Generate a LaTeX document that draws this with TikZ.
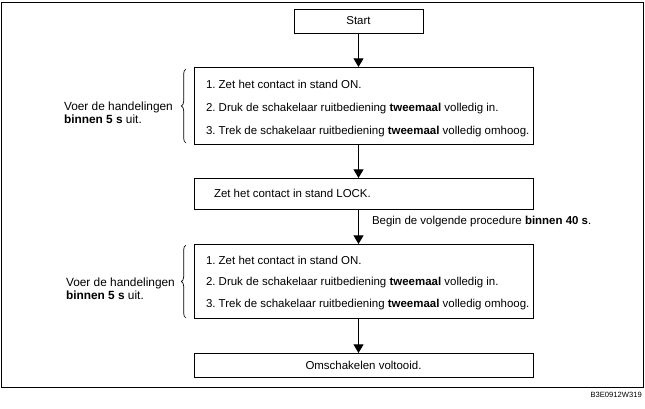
\documentclass[tikz,border=0pt]{standalone}
\usepackage{fontspec}
\setmainfont{Liberation Sans}
\usetikzlibrary{arrows.meta,decorations.pathreplacing,calc}
\tikzset{
  flowbox/.style={draw=black, line width=0.75pt, inner sep=0pt, outer sep=0pt},
  widebox/.style={flowbox, minimum width=339*0.75pt},
  arr/.style={line width=0.75pt, -{Triangle[width=7.5pt,length=6.5pt]}},
  lbl/.style={font=\fontsize{8.6}{10.2}\selectfont, inner sep=0pt, outer sep=0pt},
  listtext/.style={lbl, anchor=base west, align=left},
  sidebrace/.style={decorate, decoration={brace, amplitude=3.5pt}, line width=0.5pt},
}
\begin{document}
\frenchspacing
\begin{tikzpicture}[x=0.75pt,y=-0.75pt]
\useasboundingbox (0,0) rectangle (645,408);
\draw[line width=0.75pt] (1.5,2) rectangle (643.5,387);

\node[flowbox, minimum width=129*0.75pt, minimum height=24*0.75pt, font=\fontsize{8.6}{10}\selectfont] (start) at (358.5,21) {Start};

\node[widebox, minimum height=77*0.75pt] (box1) at (363.5,105.5) {};
\node[listtext, font=\fontsize{8.6}{16.9}\selectfont] (box1text) at (206,134) {%
1. Zet het contact in stand ON.\\
2. Druk de schakelaar ruitbediening \textbf{tweemaal} volledig in.\\
3. Trek de schakelaar ruitbediening \textbf{tweemaal} volledig omhoog.};

\node[widebox, minimum height=31*0.75pt] (lock) at (363.5,193.5) {};
\node[lbl, anchor=base west] (locktext) at (214,197.5) {Zet het contact in stand LOCK.};

\node[widebox, minimum height=74*0.75pt] (box2) at (363.5,281) {};
\node[listtext, font=\fontsize{8.6}{16.2}\selectfont] (box2text) at (206,307.5) {%
1. Zet het contact in stand ON.\\
2. Druk de schakelaar ruitbediening \textbf{tweemaal} volledig in.\\
3. Trek de schakelaar ruitbediening \textbf{tweemaal} volledig omhoog.};

\node[widebox, minimum height=24*0.75pt, font=\fontsize{8.6}{10}\selectfont] (final) at (363.5,365) {Omschakelen voltooid.};

\draw[arr] (start.south) -- (start.south |- box1.north);
\draw[arr] (start.south |- box1.south) -- (start.south |- lock.north);
\draw[arr] (start.south |- lock.south) -- (start.south |- box2.north);
\draw[arr] (start.south |- box2.south) -- (start.south |- final.north);

\node[lbl, anchor=base west] (begin) at (372,224) {Begin de volgende procedure \textbf{binnen 40 s}.};

% side notes with braces
\coordinate (b1top) at (186,69);
\coordinate (b1bot) at (186,143);
\draw[sidebrace] (b1bot) -- (b1top);
\node[listtext, font=\fontsize{8.9}{9.6}\selectfont] (note1) at (64,123) {Voer de handelingen\\\textbf{binnen 5 s} uit.};

\coordinate (b2top) at (186,245);
\coordinate (b2bot) at (186,318);
\draw[sidebrace] (b2bot) -- (b2top);
\node[listtext, font=\fontsize{8.9}{9.6}\selectfont] (note2) at (66,299) {Voer de handelingen\\\textbf{binnen 5 s} uit.};

\node[inner sep=0pt, anchor=east, font=\fontsize{5.7}{6}\selectfont] (code) at (642,395) {B3E0912W319};
\end{tikzpicture}
\end{document}
